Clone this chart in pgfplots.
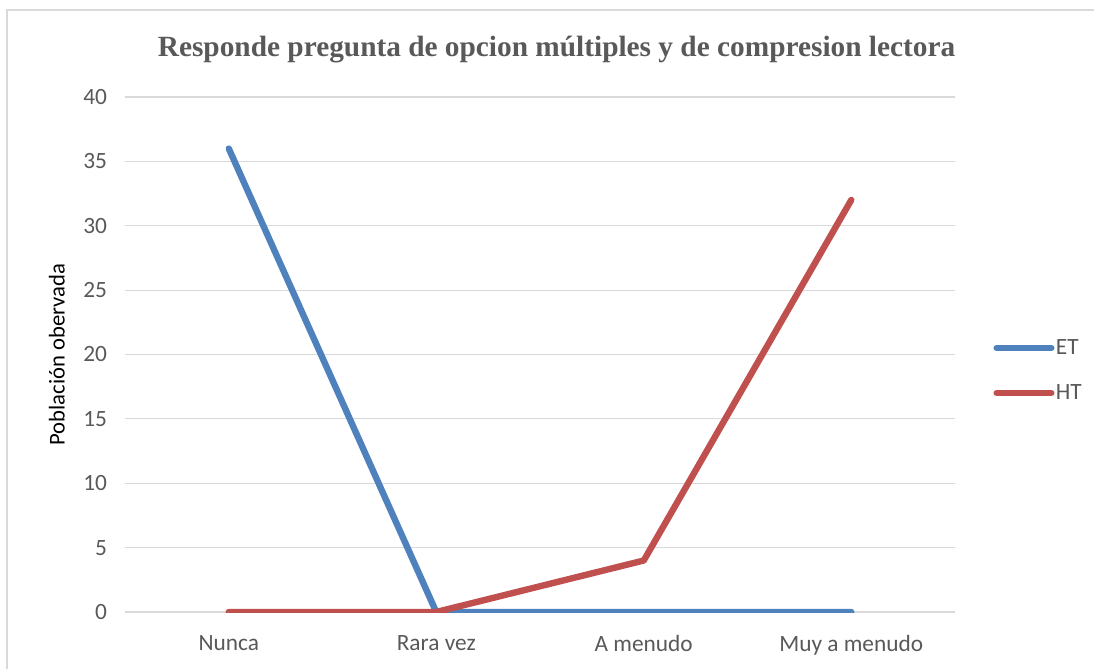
\documentclass[border=0pt]{standalone}
\usepackage{pgfplots}
\pgfplotsset{compat=1.18}
\usepackage{fontspec}
\setmainfont{Carlito}
\newfontfamily\titlefont{Liberation Serif}
\definecolor{etblue}{HTML}{4F81BD}
\definecolor{htred}{HTML}{C0504D}
\definecolor{txtgray}{HTML}{595959}
\definecolor{gridgray}{HTML}{D9D9D9}
\begin{document}
\begin{tikzpicture}[x=0.75pt,y=0.75pt]
\path[use as bounding box] (-125,-56) rectangle (969,612);
\draw[gridgray,line width=0.9pt] (-118,-60) -- (-118,602) -- (969,602);
\begin{axis}[
  at={(0,0)}, anchor=south west,
  scale only axis,
  width=622.5pt, height=386.25pt,
  xmin=-0.5, xmax=3.5, ymin=0, ymax=40,
  xtick={0,1,2,3},
  xticklabels={Nunca,Rara vez,A menudo,Muy a menudo},
  ytick={0,5,...,40},
  axis line style={draw=none},
  major tick length=0pt,
  ymajorgrids, grid style={gridgray,line width=0.9pt},
  /pgf/number format/assume math mode=true,
  tick label style={font=\fontsize{17.5}{20}\selectfont, text=txtgray},
  xticklabel style={yshift=-14pt},
  yticklabel style={xshift=-10pt},
  ylabel={Población obervada},
  ylabel style={font=\fontsize{17}{20}\selectfont, text=black, yshift=7pt},
  title={\titlefont\bfseries Responde pregunta de opcion múltiples y de compresion lectora},
  title style={font=\fontsize{22}{26}\selectfont, text=txtgray, at={(0.52,1)}, yshift=16pt},
  legend style={draw=none, fill=none, at={(1.046,0.469)}, anchor=west,
    font=\fontsize{17.5}{20}\selectfont, text=txtgray, row sep=19pt, inner sep=0pt,
    nodes={inner sep=1pt}},
  legend cell align=left,
  legend image code/.code={\draw[#1,line cap=round] (0pt,0pt) -- (41pt,0pt);},
]
\addplot[etblue, line width=4.8pt, line cap=round, line join=round] coordinates {(0,36) (1,0) (2,0) (3,0)};
\addlegendentry{ET}
\addplot[htred, line width=4.8pt, line cap=round, line join=round] coordinates {(0,0) (1,0) (2,4) (3,32)};
\addlegendentry{HT}
\end{axis}
\end{tikzpicture}
\end{document}
